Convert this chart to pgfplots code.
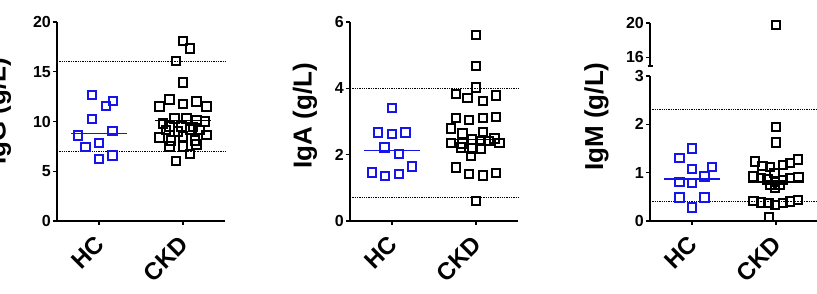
\documentclass[border=0pt]{standalone}
\usepackage{fontspec}
\setmainfont{Liberation Sans}
\usepackage{pgfplots}
\pgfplotsset{compat=1.18}
\definecolor{hcblue}{RGB}{20,20,235}
\pgfplotsset{
 gp/.style={
  scale only axis, width=168pt,
  xmin=0.5, xmax=2.5,
  axis x line*=bottom, axis y line*=left,
  axis line style={line width=1.3pt, -},
  every tick/.style={black, line width=1.3pt},
  major tick length=4pt, tick align=outside,
  xtick={1,2}, xticklabels={HC,CKD},
  xticklabel style={rotate=45, anchor=north east, font=\fontsize{24}{26}\selectfont\bfseries, inner sep=1pt, xshift=-9pt, yshift=-2pt},
  yticklabel style={font=\fontsize{16}{18}\selectfont\bfseries, inner sep=2pt},
  /pgf/number format/assume math mode=true,
  ylabel style={font=\fontsize{26}{28}\selectfont\bfseries, anchor=center},
  clip=false,
 },
 hcm/.style={only marks, mark=square, mark size=4.2pt, mark options={draw=hcblue, line width=2pt, solid}},
 ckm/.style={only marks, mark=square, mark size=4.2pt, mark options={draw=black, line width=2pt, solid}},
 refl/.style={black, densely dotted, line width=1.3pt},
}
\begin{document}
\begin{tikzpicture}
% ---------- IgG ----------
\begin{axis}[gp, at={(57pt,73pt)}, anchor=south west, height=199pt,
  ymin=0, ymax=20, ytick={0,5,10,15,20},
  ylabel={IgG (g/L)}, ylabel style={at={(axis description cs:-0.345,0.55)}}]
\addplot[refl] coordinates {(0.5,16) (2.5,16)};
\addplot[refl] coordinates {(0.5,7) (2.5,7)};
\addplot[hcm] table {
x y
0.92 12.66
1.17 12.09
1.08 11.56
0.92 10.25
1.16 9.05
0.75 8.58
1.00 7.81
0.84 7.44
1.16 6.57
1.00 6.23
};
\addplot[ckm] table {
x y
2.00 18.1
2.08 17.35
1.92 16.1
2.00 13.9
1.72 11.5
1.84 12.2
2.00 11.75
2.16 12.0
2.28 11.5
1.76 9.8
1.90 10.3
2.04 10.3
2.16 10.15
2.26 10.0
1.84 9.5
1.98 9.5
2.12 9.45
1.80 9.15
1.94 9.0
2.08 9.2
2.20 9.15
1.72 8.4
1.86 8.1
2.00 8.5
2.14 8.1
2.28 8.64
1.84 7.5
2.00 7.5
2.16 7.7
2.08 6.75
1.92 6.0
};
\addplot[hcblue, line width=1.2pt] coordinates {(0.67,8.8) (1.33,8.8)};
\addplot[black, line width=1.2pt] coordinates {(1.67,10.1) (2.33,10.1)};
\end{axis}
% ---------- IgA ----------
\begin{axis}[gp, at={(350pt,73pt)}, anchor=south west, height=199pt,
  ymin=0, ymax=6, ytick={0,2,4,6},
  ylabel={IgA (g/L)}, ylabel style={at={(axis description cs:-0.268,0.53)}}]
\addplot[refl] coordinates {(0.5,4) (2.5,4)};
\addplot[refl] coordinates {(0.5,0.7) (2.5,0.7)};
\addplot[hcm] table {
x y
1.00 3.40
0.83 2.67
1.00 2.62
1.16 2.67
0.91 2.22
1.08 2.02
0.76 1.46
0.92 1.36
1.08 1.42
1.24 1.64
};
\addplot[ckm] table {
x y
2.00 5.61
2.00 4.67
2.00 4.02
1.76 3.83
1.90 3.70
2.08 3.62
2.24 3.78
1.76 3.11
1.92 3.05
2.08 3.11
2.24 3.14
1.70 2.79
1.84 2.64
2.08 2.69
1.70 2.36
1.84 2.34
1.95 2.46
2.06 2.42
2.15 2.42
2.22 2.49
2.28 2.36
1.82 2.21
1.95 2.19
2.06 2.19
1.94 1.96
1.76 1.61
1.92 1.42
2.08 1.37
2.24 1.44
2.00 0.60
};
\addplot[hcblue, line width=1.2pt] coordinates {(0.67,2.12) (1.33,2.12)};
\addplot[black, line width=1.2pt] coordinates {(1.67,2.45) (2.33,2.45)};
\end{axis}
% ---------- IgM lower ----------
\begin{axis}[gp, at={(650pt,73pt)}, anchor=south west, height=145pt,
  ymin=0, ymax=3, ytick={0,1,2,3},
  ylabel={IgM (g/L)}, ylabel style={at={(axis description cs:-0.318,0.72)}}]
\addplot[refl] coordinates {(0.5,2.3) (2.5,2.3)};
\addplot[refl] coordinates {(0.5,0.4) (2.5,0.4)};
\addplot[hcm] table {
x y
1.00 1.50
0.85 1.30
1.00 1.08
1.24 1.12
1.15 0.92
0.85 0.81
1.00 0.79
0.85 0.49
1.15 0.49
1.00 0.28
};
\addplot[ckm] table {
x y
2.00 1.94
2.00 1.62
1.75 1.23
1.84 1.14
1.93 1.12
2.08 1.16
2.17 1.20
2.26 1.27
1.73 0.92
1.82 0.89
1.90 0.86
1.99 0.81
2.08 0.85
2.17 0.89
2.27 0.91
1.93 0.74
1.99 0.68
2.05 0.74
1.98 0.99
1.73 0.41
1.82 0.38
1.91 0.37
1.99 0.33
2.08 0.37
2.17 0.40
2.26 0.43
1.92 0.08
};
\addplot[hcblue, line width=1.2pt] coordinates {(0.67,0.87) (1.33,0.87)};
\addplot[black, line width=1.2pt] coordinates {(1.67,0.8) (2.33,0.8)};
\end{axis}
% ---------- IgM upper ----------
\begin{axis}[gp, at={(650pt,228pt)}, anchor=south west, height=43pt,
  ymin=15, ymax=20, ytick={16,20}, axis x line=none,
  extra y ticks={15}, extra y tick labels={},
  extra y tick style={tick align=center, major tick length=5pt}]
\addplot[ckm] table {
x y
2.00 19.8
};
\end{axis}
\pgfresetboundingbox
\path[use as bounding box] (0,0) rectangle (817pt,294pt);
\end{tikzpicture}
\end{document}
